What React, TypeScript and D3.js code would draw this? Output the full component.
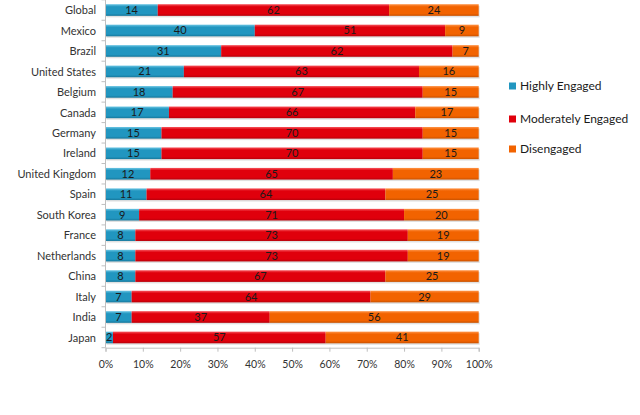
import { useEffect, useRef } from 'react'
import * as d3 from 'd3'

const countries = [
  'Global', 'Mexico', 'Brazil', 'United States', 'Belgium', 'Canada', 'Germany', 'Ireland',
  'United Kingdom', 'Spain', 'South Korea', 'France', 'Netherlands', 'China', 'Italy', 'India', 'Japan',
]
const highlyEngaged = [14, 40, 31, 21, 18, 17, 15, 15, 12, 11, 9, 8, 8, 8, 7, 7, 2]
const moderatelyEngaged = [62, 51, 62, 63, 67, 66, 70, 70, 65, 64, 71, 73, 73, 67, 64, 37, 57]
const disengaged = [24, 9, 7, 16, 15, 17, 15, 15, 23, 25, 20, 19, 19, 25, 29, 56, 41]
const seriesNames = ['Highly Engaged', 'Moderately Engaged', 'Disengaged']
const xTicks = [0, 10, 20, 30, 40, 50, 60, 70, 80, 90, 100]

const COLORS = [
  { base: '#2196c0', light: '#6cc6e4', dark: '#17789c' },
  { base: '#e0000c', light: '#f7565e', dark: '#b8000a' },
  { base: '#f26300', light: '#ff9448', dark: '#c95200' },
]
const FONT = 'Lato, "Open Sans", sans-serif'

export default function App() {
  const svgRef = useRef<SVGSVGElement>(null)

  useEffect(() => {
    if (!svgRef.current) return
    const width = 640
    const height = 415
    const svg = d3.select(svgRef.current)
    svg.selectAll('*').remove()
    svg.attr('width', width).attr('height', height)

    const defs = svg.append('defs')
    COLORS.forEach((c, i) => {
      const grad = defs.append('linearGradient')
        .attr('id', `grad${i}`)
        .attr('x1', 0).attr('x2', 0).attr('y1', 0).attr('y2', 1)
      grad.append('stop').attr('offset', '0%').attr('stop-color', c.light)
      grad.append('stop').attr('offset', '22%').attr('stop-color', c.base)
      grad.append('stop').attr('offset', '80%').attr('stop-color', c.base)
      grad.append('stop').attr('offset', '100%').attr('stop-color', c.dark)
    })

    const x = d3.scaleLinear().domain([0, 100]).range([105.5, 478.7])
    const y = d3.scaleBand().domain(countries).range([-0.2, 347.7]).paddingInner(0.43).paddingOuter(0.215)

    const rows = countries.map((name, i) => {
      const vals = [highlyEngaged[i], moderatelyEngaged[i], disengaged[i]]
      let acc = 0
      return {
        name,
        segs: vals.map((v, k) => {
          const s = { k, v, x0: acc, x1: acc + v }
          acc += v
          return s
        }),
      }
    })

    // Bars
    const rowG = svg.append('g').selectAll('g.row').data(rows).enter().append('g')
      .attr('transform', d => `translate(0,${y(d.name)})`)

    // soft shadow under each bar
    rowG.append('rect')
      .attr('x', x(0) + 1)
      .attr('y', 1.5)
      .attr('width', x(100) - x(0))
      .attr('height', y.bandwidth())
      .attr('fill', '#000')
      .attr('opacity', 0.12)

    rowG.selectAll('rect.seg').data(d => d.segs).enter().append('rect')
      .attr('class', 'seg')
      .attr('x', d => x(d.x0))
      .attr('y', 0)
      .attr('width', d => x(d.x1) - x(d.x0))
      .attr('height', y.bandwidth())
      .attr('fill', d => `url(#grad${d.k})`)

    rowG.selectAll('text').data(d => d.segs).enter().append('text')
      .attr('x', d => (x(d.x0) + x(d.x1)) / 2)
      .attr('y', y.bandwidth() / 2)
      .attr('dy', '0.36em')
      .attr('text-anchor', 'middle')
      .attr('font-family', FONT)
      .attr('font-size', '11px')
      .attr('fill', '#1a1a1a')
      .text(d => d.v)

    // Y axis
    const axisColor = '#bfbfbf'
    svg.append('line')
      .attr('x1', x(0)).attr('x2', x(0))
      .attr('y1', 0).attr('y2', 347.7)
      .attr('stroke', axisColor)
    const bounds = countries.map(c => (y(c) ?? 0) - (y.step() - y.bandwidth()) / 2).concat([347.7])
    svg.append('g').selectAll('line').data(bounds).enter().append('line')
      .attr('x1', x(0) - 4).attr('x2', x(0))
      .attr('y1', d => d).attr('y2', d => d)
      .attr('stroke', axisColor)

    svg.append('g').selectAll('text').data(countries).enter().append('text')
      .attr('x', 96)
      .attr('y', d => (y(d) ?? 0) + y.bandwidth() / 2)
      .attr('dy', '0.38em')
      .attr('text-anchor', 'end')
      .attr('font-family', FONT)
      .attr('font-size', '11px')
      .attr('fill', '#333')
      .text(d => d)

    // X axis
    const xAxis = svg.append('g')
      .attr('transform', 'translate(0,347.7)')
      .call(d3.axisBottom(x).tickValues(xTicks).tickSize(4).tickFormat(d => `${d}%`))
    xAxis.select('.domain').attr('stroke', axisColor)
    xAxis.selectAll('.tick line').attr('stroke', axisColor)
    xAxis.selectAll('.tick text')
      .attr('fill', '#333')
      .attr('font-family', FONT)
      .attr('font-size', '10.5px')
      .attr('y', 13)

    // Legend
    const legend = svg.append('g').attr('transform', 'translate(509,0)')
    const legendY = [86, 119, 149]
    seriesNames.forEach((name, i) => {
      const row = legend.append('g').attr('transform', `translate(0,${legendY[i]})`)
      row.append('rect').attr('x', 0).attr('y', -3.5).attr('width', 7).attr('height', 7).attr('fill', COLORS[i].base)
      row.append('text')
        .attr('x', 11)
        .attr('y', 0)
        .attr('dy', '0.36em')
        .attr('font-family', FONT)
        .attr('font-size', '12px')
        .attr('fill', '#1a1a1a')
        .text(name)
    })
  }, [])

  return (
    <svg ref={svgRef} style={{ position: 'absolute', top: 0, left: 0, display: 'block' }} />
  )
}
